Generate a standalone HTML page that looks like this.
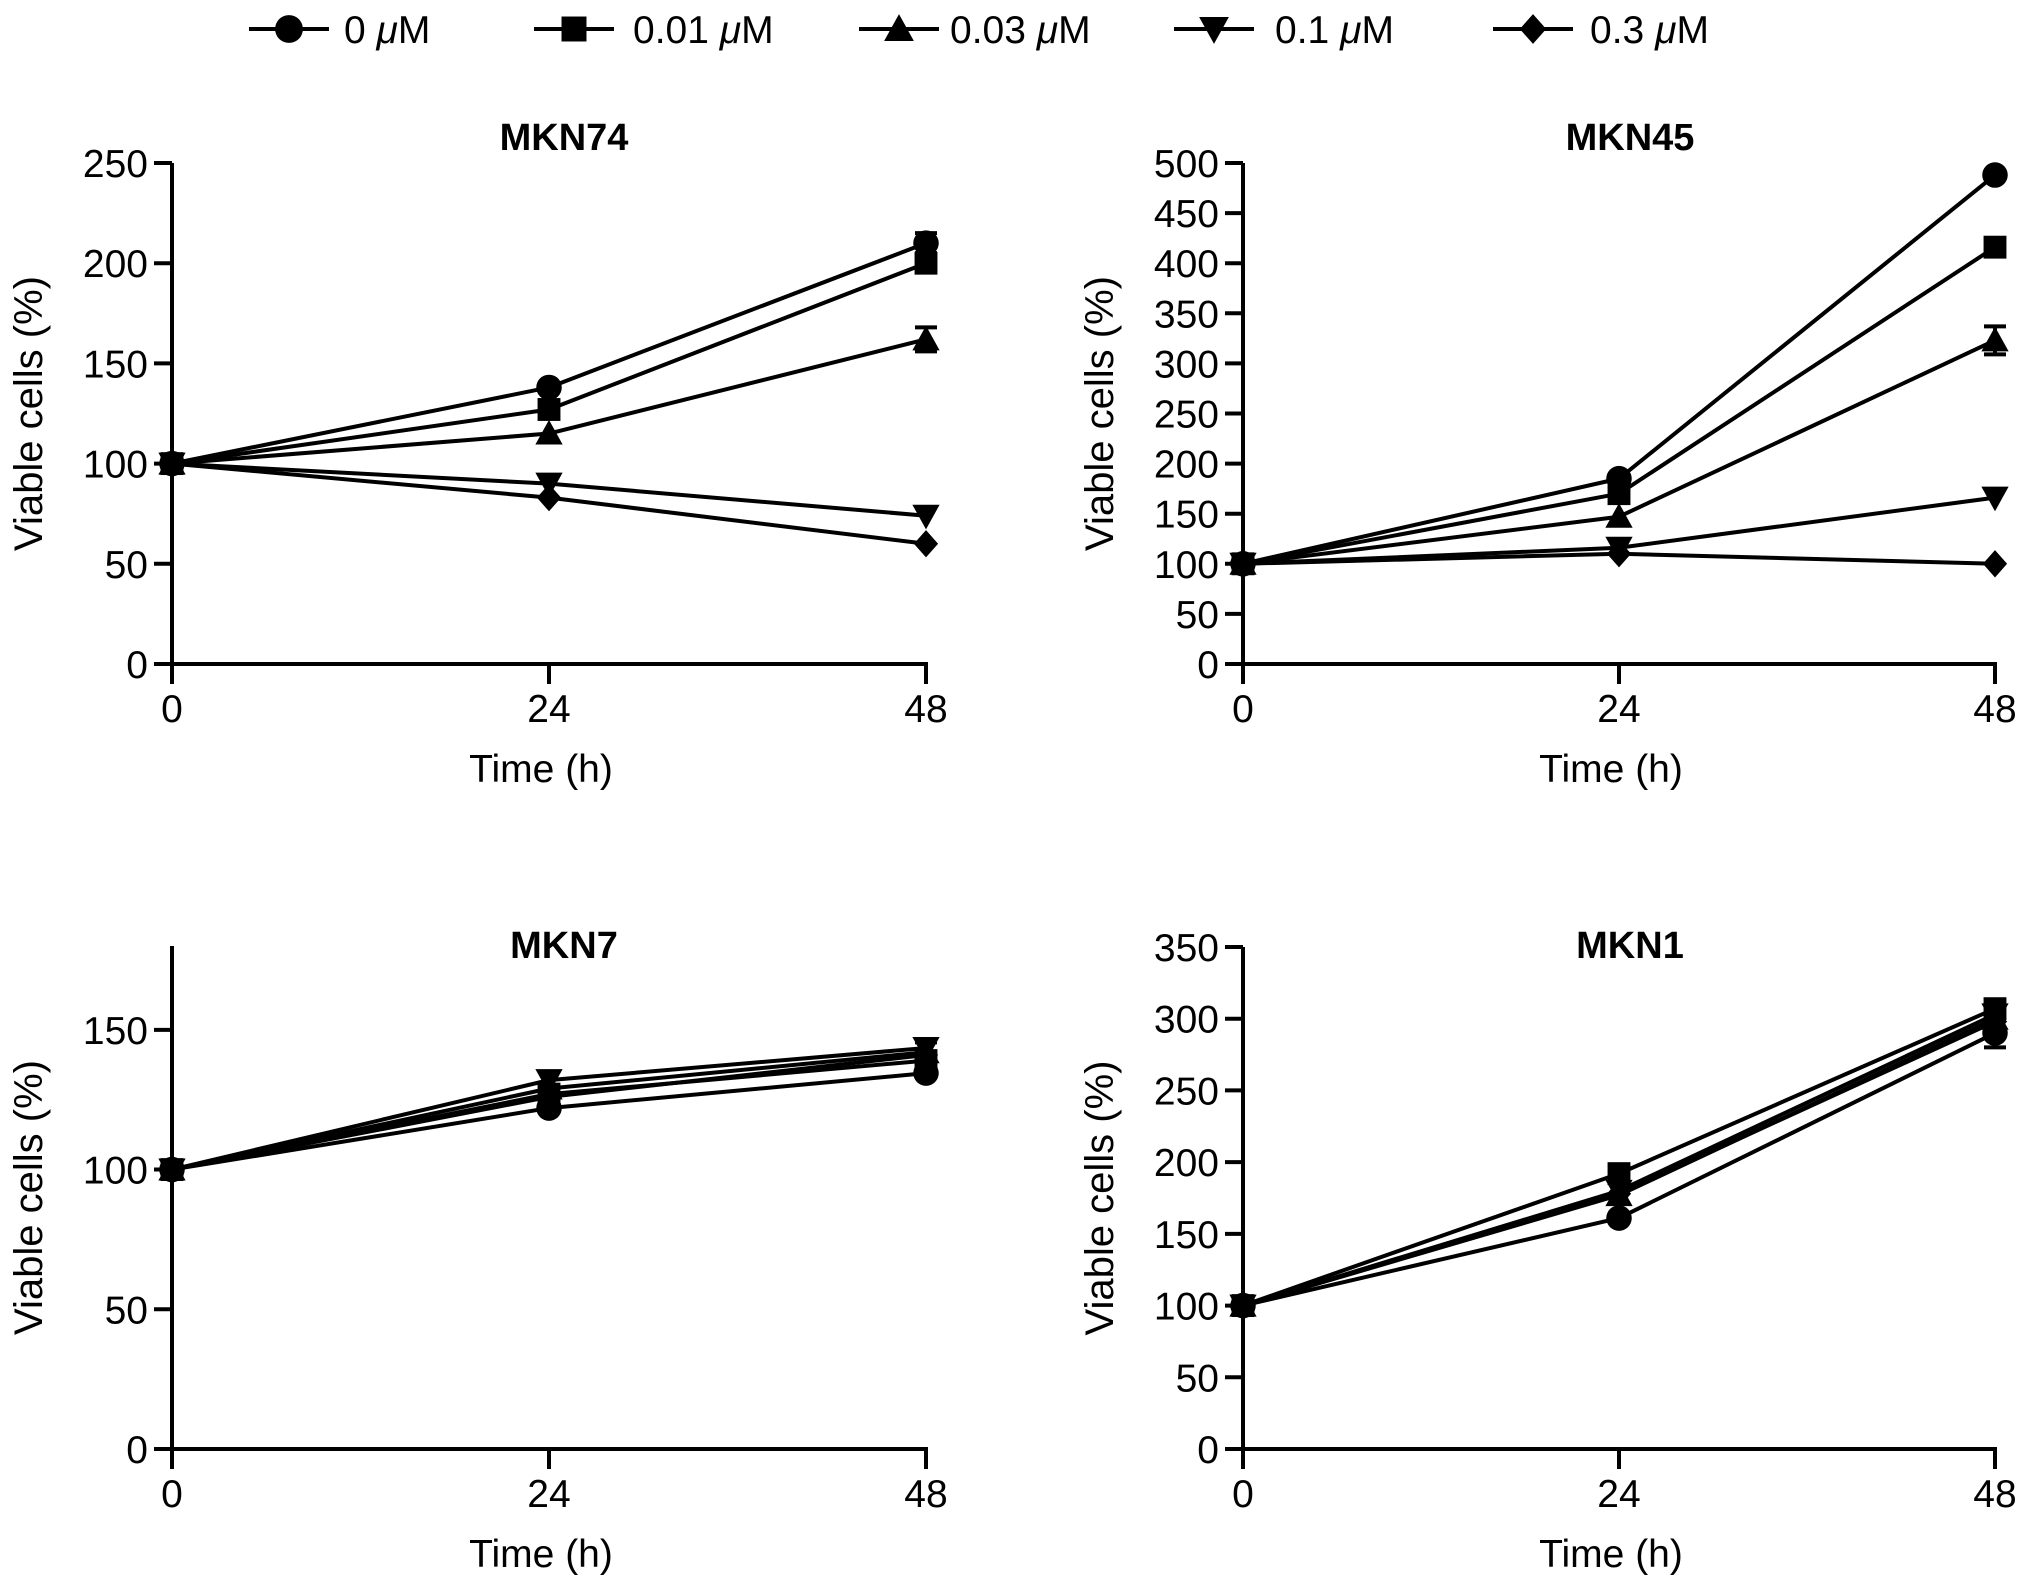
<!DOCTYPE html>
<html><head><meta charset="utf-8">
<style>
html,body{margin:0;padding:0;background:#fff;}
svg{display:block;font-family:"Liberation Sans",Arial,sans-serif;}
</style></head>
<body>
<svg id="fig" width="2031" height="1589" viewBox="0 0 2031 1589"></svg>
<script>
const doses = ["0 μM","0.01 μM","0.03 μM","0.1 μM","0.3 μM"];
const markerTypes = ["circle","square","triangle","down-triangle","diamond"];
const times = [0,24,48];
const xTicks = [0,24,48];

const panelNames = ["MKN74","MKN45","MKN7","MKN1"];
const mkn74Vals = [[100,138,210],[100,127,200],[100,115,162],[100,90,74],[100,83,60]];
const mkn74Err = [[0,0,5],[0,0,3],[0,0,6],[0,0,0],[0,0,0]];
const mkn45Vals = [[100,185,488],[100,170,416],[100,147,323],[100,116,166],[100,110,100]];
const mkn45Err = [[0,0,0],[0,0,0],[0,0,14],[0,0,0],[0,0,0]];
const mkn7Vals = [[100,122,134.5],[100,127,139],[100,129,142],[100,132,143.5],[100,126,141]];
const mkn7Err = [[0,0,0],[0,0,0],[0,0,0],[0,0,2],[0,0,0]];
const mkn1Vals = [[100,161,290],[100,192,307],[100,177,300],[100,180,303],[100,178,298]];
const mkn1Err = [[0,0,10],[0,0,3],[0,0,0],[0,0,0],[0,0,0]];
const mkn74Ticks = [0,50,100,150,200,250];
const mkn45Ticks = [0,50,100,150,200,250,300,350,400,450,500];
const mkn7Ticks = [0,50,100,150];
const mkn1Ticks = [0,50,100,150,200,250,300,350];
const yMaxes = [250,500,180,350];

const NS="http://www.w3.org/2000/svg";
const svg=document.getElementById('fig');
function mk(tag,attrs,parent){const e=document.createElementNS(NS,tag);for(const k in attrs)e.setAttribute(k,attrs[k]);(parent||svg).appendChild(e);return e;}

function marker(g,type,cx,cy,s){
  let e;
  if(type==="circle") e=mk('circle',{cx:cx,cy:cy,r:s*0.58,fill:'#000'},g);
  else if(type==="square") e=mk('rect',{x:cx-s*0.52,y:cy-s*0.52,width:s*1.04,height:s*1.04,fill:'#000'},g);
  else if(type==="triangle") e=mk('polygon',{points:`${cx},${cy-s*0.62} ${cx-s*0.62},${cy+s*0.5} ${cx+s*0.62},${cy+s*0.5}`,fill:'#000'},g);
  else if(type==="down-triangle") e=mk('polygon',{points:`${cx},${cy+s*0.62} ${cx-s*0.62},${cy-s*0.5} ${cx+s*0.62},${cy-s*0.5}`,fill:'#000'},g);
  else e=mk('polygon',{points:`${cx},${cy-s*0.62} ${cx+s*0.55},${cy} ${cx},${cy+s*0.62} ${cx-s*0.55},${cy}`,fill:'#000'},g);
  return e;
}

// legend
const legX=[289,574,899,1214,1533];
const legTX=[344,633,950,1275,1590];
doses.forEach((d,i)=>{
  const g=mk('g',{});
  
  
  mk('line',{x1:legX[i]-40,y1:29,x2:legX[i]+40,y2:29,stroke:'#000','stroke-width':4},g);
  marker(g,markerTypes[i],legX[i],29,24);
  const t=mk('text',{x:legTX[i],y:43,'font-size':39},g);
  const parts=d.split(' ');
  t.appendChild(document.createTextNode(parts[0]+' '));
  const ts=mk('tspan',{'font-style':'italic'},t); ts.textContent='μ';
  t.appendChild(document.createTextNode('M'));
});

const panels=[
 {name:panelNames[0],vals:mkn74Vals,err:mkn74Err,ticks:mkn74Ticks,ymax:yMaxes[0],x0:172,x1:926,y0:664,y1:163,titleX:564,titleY:150},
 {name:panelNames[1],vals:mkn45Vals,err:mkn45Err,ticks:mkn45Ticks,ymax:yMaxes[1],x0:1243,x1:1995,y0:664,y1:163,titleX:1630,titleY:150},
 {name:panelNames[2],vals:mkn7Vals,err:mkn7Err,ticks:mkn7Ticks,ymax:yMaxes[2],x0:172,x1:926,y0:1449,y1:946,titleX:564,titleY:958},
 {name:panelNames[3],vals:mkn1Vals,err:mkn1Err,ticks:mkn1Ticks,ymax:yMaxes[3],x0:1243,x1:1995,y0:1449,y1:947,titleX:1630,titleY:958}
];

panels.forEach((p,pi)=>{
  const g=mk('g',{});
  
  
  const X=t=>p.x0+(t-times[0])/(times[2]-times[0])*(p.x1-p.x0);
  const Y=v=>p.y0-v/p.ymax*(p.y0-p.y1);
  const title=mk('text',{x:p.titleX,y:p.titleY,'font-size':38,'font-weight':'bold','text-anchor':'middle'},g);
  title.textContent=p.name;
  
  
  const yax=mk('line',{x1:p.x0,y1:p.y1,x2:p.x0,y2:p.y0+2,stroke:'#000','stroke-width':4},g);
  
  
  const xax=mk('line',{x1:p.x0-18,y1:p.y0,x2:p.x1+2,y2:p.y0,stroke:'#000','stroke-width':4},g);
  
  
  p.ticks.forEach(v=>{
    mk('line',{x1:p.x0-18,y1:Y(v),x2:p.x0,y2:Y(v),stroke:'#000','stroke-width':4},g);
    const t=mk('text',{x:p.x0-24,y:Y(v)+14,'font-size':39,'text-anchor':'end'},g);
    t.textContent=v;
    
    
  });
  xTicks.forEach(v=>{
    mk('line',{x1:X(v),y1:p.y0,x2:X(v),y2:p.y0+20,stroke:'#000','stroke-width':4},g);
    const t=mk('text',{x:X(v),y:p.y0+58,'font-size':39,'text-anchor':'middle'},g);
    t.textContent=v;
    
    
  });
  const xl=mk('text',{x:(p.x0+p.x1)/2-8,y:p.y0+118,'font-size':39,'text-anchor':'middle'},g);
  xl.textContent='Time (h)';
  
  
  const lx=p.x0-130, ly=(p.y0+p.y1)/2;
  const yl=mk('text',{x:lx,y:ly,'font-size':40,'text-anchor':'middle',transform:`rotate(-90 ${lx} ${ly})`},g);
  yl.textContent='Viable  cells (%)';
  
  
  p.vals.forEach((ser,si)=>{
    const sg=mk('g',{},g);
    
    
    const pts=ser.map((v,k)=>X(times[k])+','+Y(v)).join(' ');
    mk('polyline',{points:pts,fill:'none',stroke:'#000','stroke-width':4,'stroke-linejoin':'round'},sg);
    ser.forEach((v,k)=>{
      const e=p.err[si][k];
      if(e>0){
        const cx=X(times[k]);
        mk('line',{x1:cx,y1:Y(v+e),x2:cx,y2:Y(v-e),stroke:'#000','stroke-width':4},sg);
        mk('line',{x1:cx-11,y1:Y(v+e),x2:cx+11,y2:Y(v+e),stroke:'#000','stroke-width':4},sg);
        mk('line',{x1:cx-11,y1:Y(v-e),x2:cx+11,y2:Y(v-e),stroke:'#000','stroke-width':4},sg);
      }
      const m=marker(sg,markerTypes[si],X(times[k]),Y(v),22);
      
      
    });
  });
});
</script>
</body></html>
